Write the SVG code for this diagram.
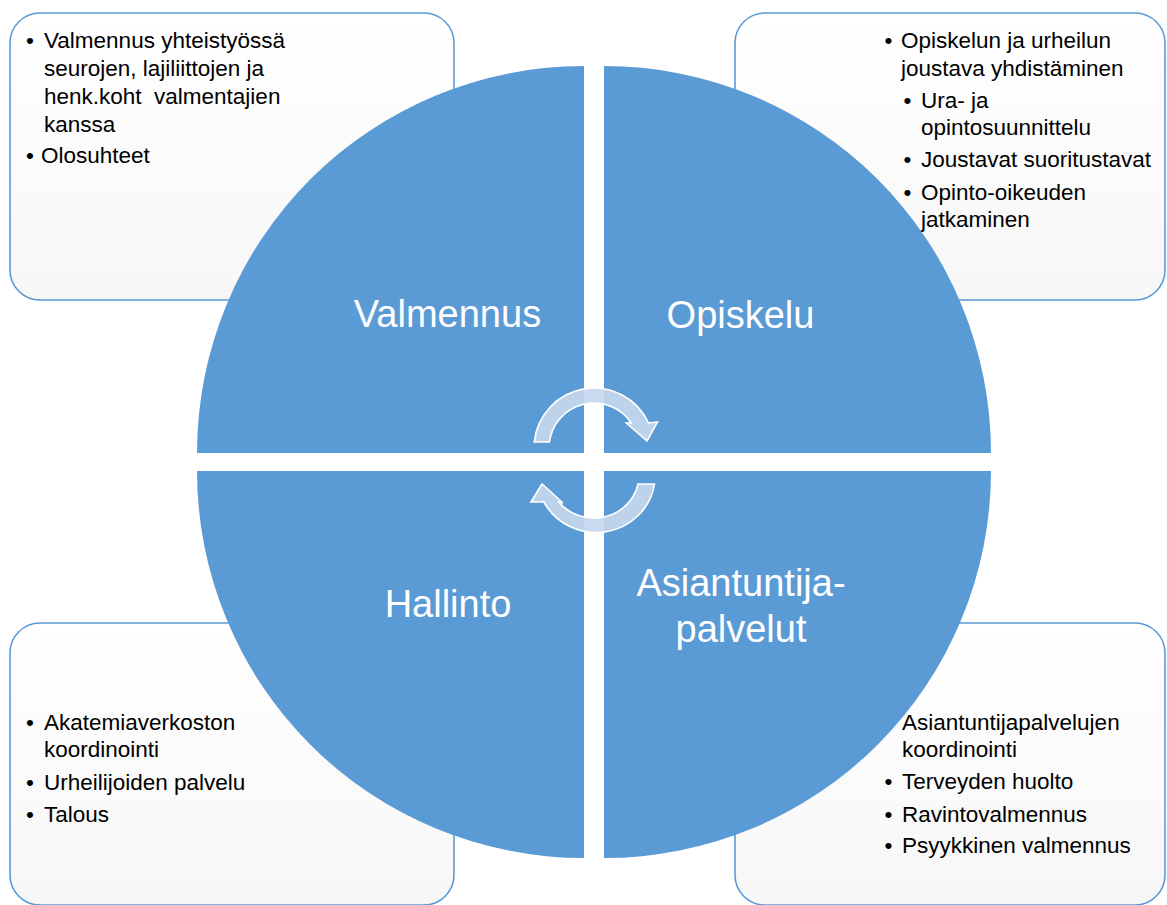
<svg xmlns="http://www.w3.org/2000/svg" width="1167" height="905" viewBox="0 0 1167 905">
  <defs>
    <linearGradient id="boxfill" x1="0" y1="0" x2="0" y2="1">
      <stop offset="0" stop-color="#ffffff"/>
      <stop offset="1" stop-color="#f7f7f7"/>
    </linearGradient>
    <style>
      .box { fill: url(#boxfill); stroke: #5b9bd5; stroke-width: 1.6; }
      .quad { fill: #5b9bd5; }
      .txt { font-family: "Liberation Sans", Arial, sans-serif; font-size: 22.5px; fill: #000000; white-space: pre; }
      .lbl { font-family: "Liberation Sans", Arial, sans-serif; font-size: 38px; fill: #ffffff; text-anchor: middle; }
      .arrow { fill: #c6d8ee; fill-opacity: 0.92; stroke: #ffffff; stroke-width: 1.6; stroke-linejoin: miter; }
    </style>
  </defs>
  <rect width="1167" height="905" fill="#ffffff"/>

  <g id="box-valmennus">
    <rect class="box" x="10" y="13" width="444" height="287" rx="30" ry="30"/>
    <text class="txt"><tspan x="26" y="48">•</tspan><tspan x="44" y="48">Valmennus yhteistyössä</tspan><tspan x="44" y="76">seurojen, lajiliittojen ja</tspan><tspan x="44" y="104">henk.koht  valmentajien</tspan><tspan x="44" y="132">kanssa</tspan><tspan x="26" y="163">•</tspan><tspan x="41" y="163">Olosuhteet</tspan></text>
  </g>

  <g id="box-opiskelu">
    <rect class="box" x="735" y="13" width="430" height="287" rx="30" ry="30"/>
    <text class="txt"><tspan x="884.5" y="48">•</tspan><tspan x="901" y="48">Opiskelun ja urheilun</tspan><tspan x="901" y="76">joustava yhdistäminen</tspan><tspan x="903.5" y="108">•</tspan><tspan x="921" y="108">Ura- ja</tspan><tspan x="921" y="135">opintosuunnittelu</tspan><tspan x="903.5" y="167">•</tspan><tspan x="921" y="167">Joustavat suoritustavat</tspan><tspan x="903.5" y="200">•</tspan><tspan x="921" y="200">Opinto-oikeuden</tspan><tspan x="921" y="227">jatkaminen</tspan></text>
  </g>

  <g id="box-hallinto">
    <rect class="box" x="10" y="623" width="444" height="282" rx="30" ry="30"/>
    <text class="txt"><tspan x="26" y="730">•</tspan><tspan x="44" y="730">Akatemiaverkoston</tspan><tspan x="44" y="757">koordinointi</tspan><tspan x="26" y="790">•</tspan><tspan x="44" y="790">Urheilijoiden palvelu</tspan><tspan x="26" y="822">•</tspan><tspan x="44" y="822">Talous</tspan></text>
  </g>

  <g id="box-asiantuntija">
    <rect class="box" x="735" y="623" width="430" height="282" rx="30" ry="30"/>
    <text class="txt"><tspan x="884.5" y="730">•</tspan><tspan x="902" y="730">Asiantuntijapalvelujen</tspan><tspan x="902" y="757">koordinointi</tspan><tspan x="884.5" y="789">•</tspan><tspan x="902" y="789">Terveyden huolto</tspan><tspan x="884.5" y="822">•</tspan><tspan x="902" y="822">Ravintovalmennus</tspan><tspan x="884.5" y="853">•</tspan><tspan x="902" y="853">Psyykkinen valmennus</tspan></text>
  </g>

  <g id="quad-valmennus">
    <path class="quad" d="M584,453 L197,453 A387,387 0 0 1 584,66 Z"/>
    <text class="lbl" x="447.5" y="327">Valmennus</text>
  </g>
  <g id="quad-opiskelu">
    <path class="quad" d="M604,453 L604,66 A387,387 0 0 1 991,453 Z"/>
    <text class="lbl" x="740.5" y="328">Opiskelu</text>
  </g>
  <g id="quad-hallinto">
    <path class="quad" d="M584,471 L584,858 A387,387 0 0 1 197,471 Z"/>
    <text class="lbl" x="448" y="617">Hallinto</text>
  </g>
  <g id="quad-asiantuntija">
    <path class="quad" d="M604,471 L991,471 A387,387 0 0 1 604,858 Z"/>
    <text class="lbl" x="741" y="596">Asiantuntija-</text>
    <text class="lbl" x="741" y="642">palvelut</text>
  </g>

  <g id="connectors">
    <path class="arrow" d="M534.3,442 A60,60 0 0 1 648.5,423 L657.5,422 L647,441 L626.5,423 L631.4,423 A45,45 0 0 0 549.4,442 Z"/>
    <path class="arrow" d="M654.5,484 A59,57 0 0 1 543.9,502 L531,502 L542,484 L563,503 L558.8,502 A45,43 0 0 0 638,484 Z"/>
  </g>
</svg>
